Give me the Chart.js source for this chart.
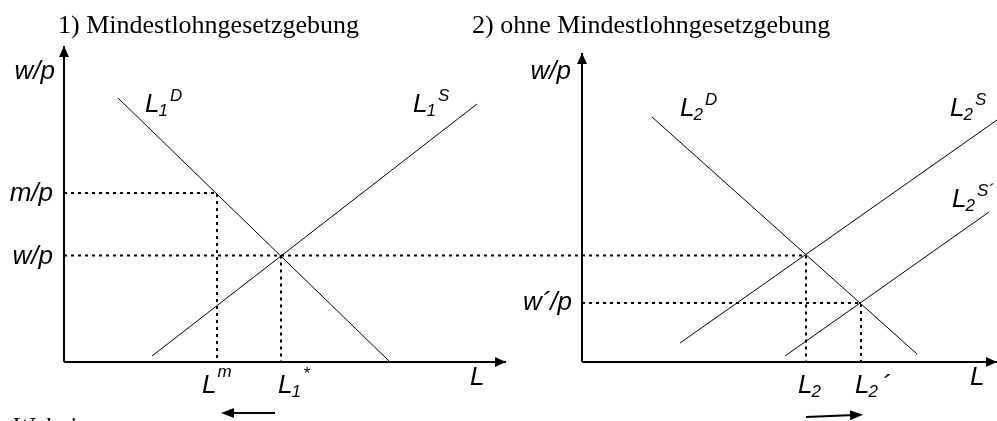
<!DOCTYPE html>
<html><head><meta charset="utf-8">
<script src="https://cdn.jsdelivr.net/npm/chart.js@4/dist/chart.umd.min.js"></script>
<style>html,body{margin:0;padding:0;background:#fff;overflow:hidden}canvas{display:block}</style>
</head><body>
<canvas id="c" width="997" height="421"></canvas>
<script>
// ---------- data (abstract units: x = labour L, y = real wage w/p) ----------
const panelTitles = ['1) Mindestlohngesetzgebung', '2) ohne Mindestlohngesetzgebung'];
const panelOrigins = [0, 51.8];      // x where each panel's vertical axis stands
const xAxisEnds = [44.2, 93.3];
const yAxisTops = [31.6, 30.9];

const demand1  = [[5.4, 26.4], [32.6, 0]];
const supply1  = [[8.8, 0.6], [41.3, 25.8]];
const demand2  = [[58.8, 24.5], [85.3, 0.8]];
const supply2  = [[61.6, 1.9], [93.3, 24.2]];
const supply2b = [[72.1, 0.6], [92.5, 15.0]];

const wageLevels = [16.9, 10.65, 5.9];          // m/p, w/p, w´/p
const wageLabels = ['m/p', 'w/p', 'w´/p'];
const qtyLevels  = [15.3, 21.7, 74.2, 79.7];     // L^m, L1*, L2, L2´
const qtyLabels  = [['L', '', 'm'], ['L', '1', '*'], ['L', '2', ''], ['L', '2', '´']];
const curveLabels = [['L', '1', 'D'], ['L', '1', 'S'], ['L', '2', 'D'], ['L', '2', 'S'], ['L', '2', 'S´']];

// ---------- layout / style (pixels) ----------
const curveLabelPos = [[145, 112], [413, 112], [680, 116], [950, 116], [952, 207]];
const qtyLabelDx = [-15, -3, -8, -6];
const SANS = 'italic 26px "Liberation Sans", Arial, sans-serif';
const SANS_S = 'italic 17px "Liberation Sans", Arial, sans-serif';
const SERIF = '26px "Liberation Serif", "Times New Roman", serif';

const pts = a => a.map(p => ({x: p[0], y: p[1]}));
const line = (a, o) => Object.assign({data: pts(a), showLine: true, borderColor: '#000', borderWidth: 1,
  pointRadius: 0, fill: false, tension: 0, clip: false}, o || {});
const dotted = a => line(a, {borderWidth: 2, borderDash: [3, 4]});
const axis = a => line(a, {borderWidth: 2});

const [mW, wW, w2W] = wageLevels;
const [Lm, L1s, L2, L2p] = qtyLevels;

const datasets = [
  line(demand1), line(supply1), line(demand2), line(supply2), line(supply2b),
  dotted([[panelOrigins[0], mW], [Lm, mW], [Lm, 0]]),
  dotted([[panelOrigins[0], wW], [L2, wW]]),
  dotted([[L1s, wW], [L1s, 0]]),
  dotted([[L2, wW], [L2, 0]]),
  dotted([[panelOrigins[1], w2W], [L2p, w2W], [L2p, 0]]),
  axis([[panelOrigins[0], 0], [panelOrigins[0], yAxisTops[0]]]),
  axis([[panelOrigins[0], 0], [xAxisEnds[0], 0]]),
  axis([[panelOrigins[1], 0], [panelOrigins[1], yAxisTops[1]]]),
  axis([[panelOrigins[1], 0], [xAxisEnds[1], 0]])
];

function rich(ctx, x, y, parts, supDy) {
  const [base, sub, sup] = parts;
  ctx.textAlign = 'left'; ctx.textBaseline = 'alphabetic';
  ctx.font = SANS; ctx.fillText(base, x, y);
  let cx = x + ctx.measureText(base).width;
  ctx.font = SANS_S;
  if (sub) { ctx.fillText(sub, cx - 1, y + 4); cx += ctx.measureText(sub).width; }
  if (sup === '´') { ctx.font = SANS; ctx.fillText(sup, cx + 3, y); }
  else if (sup) { ctx.fillText(sup, cx + 1, y - (supDy || 11)); }
}
function head(ctx, x, y, dx, dy, len, hw) {
  const n = Math.hypot(dx, dy), ux = dx / n, uy = dy / n;
  ctx.beginPath();
  ctx.moveTo(x, y);
  ctx.lineTo(x - ux * len - uy * hw, y - uy * len + ux * hw);
  ctx.lineTo(x - ux * len + uy * hw, y - uy * len - ux * hw);
  ctx.closePath(); ctx.fill();
}

const deco = {
  id: 'deco',
  afterDatasetsDraw(chart) {
    const ctx = chart.ctx, X = v => chart.scales.x.getPixelForValue(v), Y = v => chart.scales.y.getPixelForValue(v);
    ctx.save(); ctx.fillStyle = '#000'; ctx.strokeStyle = '#000';
    // axis arrowheads
    for (let i = 0; i < 2; i++) {
      head(ctx, X(panelOrigins[i]), Y(yAxisTops[i]), 0, -1, 11, 5);
      head(ctx, X(xAxisEnds[i]), Y(0), 1, 0, 11, 5);
    }
    // titles
    ctx.font = SERIF; ctx.textAlign = 'left'; ctx.textBaseline = 'alphabetic';
    ctx.fillText(panelTitles[0], X(panelOrigins[0]) - 6, 33);
    ctx.fillText(panelTitles[1], X(panelOrigins[1]) - 110, 33);
    // axis names
    ctx.font = SANS; ctx.textAlign = 'right';
    ctx.fillText('w/p', X(panelOrigins[0]) - 9, Y(yAxisTops[0]) + 33);
    ctx.fillText('w/p', X(panelOrigins[1]) - 11, Y(yAxisTops[1]) + 26);
    ctx.textAlign = 'left';
    ctx.fillText('L', X(xAxisEnds[0]) - 36, Y(0) + 23);
    ctx.fillText('L', X(xAxisEnds[1]) - 27, Y(0) + 23);
    // wage tick labels
    ctx.textAlign = 'right';
    ctx.fillText(wageLabels[0], X(panelOrigins[0]) - 11, Y(mW) + 8);
    ctx.fillText(wageLabels[1], X(panelOrigins[0]) - 11, Y(wW) + 8);
    ctx.fillText(wageLabels[2], X(panelOrigins[1]) - 10, Y(w2W) + 7);
    // quantity tick labels
    qtyLevels.forEach((q, i) => rich(ctx, X(q) + qtyLabelDx[i], Y(0) + 31, qtyLabels[i], i === 0 ? 16 : 14));
    // curve labels
    curveLabels.forEach((c, i) => rich(ctx, curveLabelPos[i][0], curveLabelPos[i][1], c, 11));
    // shift arrows
    ctx.lineWidth = 2;
    const ay1 = Y(0) + 51, ay2 = Y(0) + 55;
    ctx.beginPath(); ctx.moveTo(X(L1s) - 6, ay1); ctx.lineTo(X(Lm) + 10, ay1); ctx.stroke();
    head(ctx, X(Lm) + 4, ay1, -1, 0, 13, 5);
    ctx.beginPath(); ctx.moveTo(X(L2), ay2); ctx.lineTo(X(L2p) - 6, ay2 - 2); ctx.stroke();
    head(ctx, X(L2p) + 2, ay2 - 2.3, 1, -0.04, 13, 5);
    // cut-off footnote
    ctx.font = 'italic 26px "Liberation Serif", "Times New Roman", serif'; ctx.textAlign = 'left';
    ctx.fillText('Wobei:', 12, 435);
    ctx.restore();
  }
};

new Chart(document.getElementById('c'), {
  type: 'scatter',
  data: {datasets},
  options: {
    responsive: false, animation: false, devicePixelRatio: 1, events: [],
    layout: {padding: {left: 64, right: 0, top: 46, bottom: 59}},
    scales: {
      x: {type: 'linear', min: 0, max: 93.3, display: false},
      y: {type: 'linear', min: 0, max: 31.6, display: false}
    },
    plugins: {legend: {display: false}, tooltip: {enabled: false}, title: {display: false}}
  },
  plugins: [deco]
});
</script>
</body></html>
